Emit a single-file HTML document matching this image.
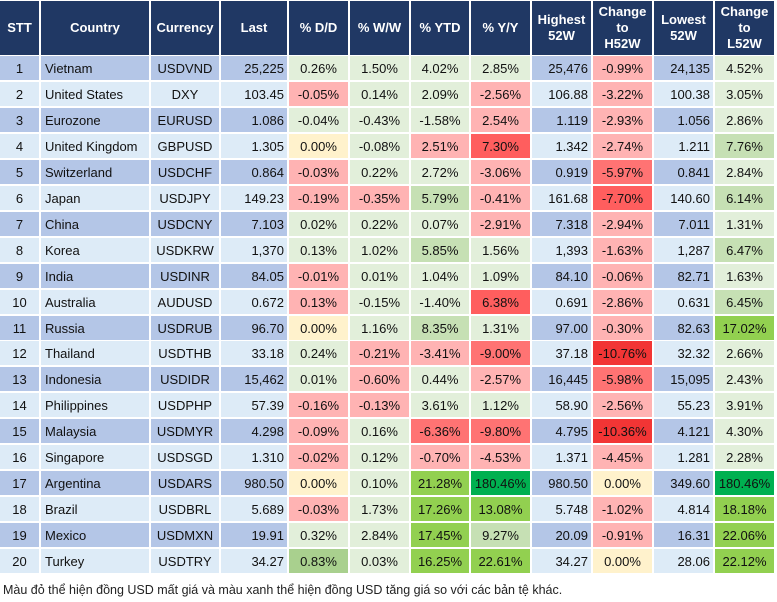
<!DOCTYPE html>
<html><head><meta charset="utf-8">
<style>
html,body{margin:0;padding:0;background:#fff;}
body{width:777px;height:602px;position:relative;overflow:hidden;font-family:"Liberation Sans",Arial,sans-serif;}
.c{position:absolute;box-sizing:border-box;font-size:13px;color:#111;display:flex;align-items:center;white-space:nowrap;}
.h{background:#203864;color:#fff;font-weight:bold;justify-content:center;text-align:center;line-height:16px;font-size:13px;}
.l{justify-content:flex-start;padding-left:4px;}
.m{justify-content:center;}
.r{justify-content:flex-end;padding-right:3px;}
#foot{position:absolute;left:3px;top:583px;font-size:12.5px;color:#222;}
</style></head>
<body>
<div id="tbl"></div>
<div id="foot">Màu đỏ thể hiện đồng USD mất giá và màu xanh thể hiện đồng USD tăng giá so với các bản tệ khác.</div>
<script>
const headers = ["STT","Country","Currency","Last","% D/D","% W/W","% YTD","% Y/Y","Highest<br>52W","Change<br>to<br>H52W","Lowest<br>52W","Change<br>to<br>L52W"];
const countries = ["Vietnam","United States","Eurozone","United Kingdom","Switzerland","Japan","China","Korea","India","Australia","Russia","Thailand","Indonesia","Philippines","Malaysia","Singapore","Argentina","Brazil","Mexico","Turkey"];
const currencies = ["USDVND","DXY","EURUSD","GBPUSD","USDCHF","USDJPY","USDCNY","USDKRW","USDINR","AUDUSD","USDRUB","USDTHB","USDIDR","USDPHP","USDMYR","USDSGD","USDARS","USDBRL","USDMXN","USDTRY"];
const last = ["25,225","103.45","1.086","1.305","0.864","149.23","7.103","1,370","84.05","0.672","96.70","33.18","15,462","57.39","4.298","1.310","980.50","5.689","19.91","34.27"];
const dd = ["0.26%","-0.05%","-0.04%","0.00%","-0.03%","-0.19%","0.02%","0.13%","-0.01%","0.13%","0.00%","0.24%","0.01%","-0.16%","-0.09%","-0.02%","0.00%","-0.03%","0.32%","0.83%"];
const ww = ["1.50%","0.14%","-0.43%","-0.08%","0.22%","-0.35%","0.22%","1.02%","0.01%","-0.15%","1.16%","-0.21%","-0.60%","-0.13%","0.16%","0.12%","0.10%","1.73%","2.84%","0.03%"];
const ytd = ["4.02%","2.09%","-1.58%","2.51%","2.72%","5.79%","0.07%","5.85%","1.04%","-1.40%","8.35%","-3.41%","0.44%","3.61%","-6.36%","-0.70%","21.28%","17.26%","17.45%","16.25%"];
const yy = ["2.85%","-2.56%","2.54%","7.30%","-3.06%","-0.41%","-2.91%","1.56%","1.09%","6.38%","1.31%","-9.00%","-2.57%","1.12%","-9.80%","-4.53%","180.46%","13.08%","9.27%","22.61%"];
const high = ["25,476","106.88","1.119","1.342","0.919","161.68","7.318","1,393","84.10","0.691","97.00","37.18","16,445","58.90","4.795","1.371","980.50","5.748","20.09","34.27"];
const chH = ["-0.99%","-3.22%","-2.93%","-2.74%","-5.97%","-7.70%","-2.94%","-1.63%","-0.06%","-2.86%","-0.30%","-10.76%","-5.98%","-2.56%","-10.36%","-4.45%","0.00%","-1.02%","-0.91%","0.00%"];
const low = ["24,135","100.38","1.056","1.211","0.841","140.60","7.011","1,287","82.71","0.631","82.63","32.32","15,095","55.23","4.121","1.281","349.60","4.814","16.31","28.06"];
const chL = ["4.52%","3.05%","2.86%","7.76%","2.84%","6.14%","1.31%","6.47%","1.63%","6.45%","17.02%","2.66%","2.43%","3.91%","4.30%","2.28%","180.46%","18.18%","22.06%","22.12%"];
// colour codes per row for D/D, W/W, YTD, Y/Y, H52W, L52W
const shades = ["aaaapa","paappa","aaappa","yaprpb","paapqa","ppbprb","aaappa","aababb".slice(0,4)+"pb","paaapa","paarpb","yabapc","appqsa","apapqa","ppaapa","paqqsa","pappp a".replace(" ",""),"yacdyd","pacc pc".replace(" ",""),"aacbpc","eaccyc"];
const pal = {a:"#e2efda",b:"#c6e0b4",c:"#92d050",d:"#00b050",e:"#a9d08e",y:"#fff2cc",p:"#ffb3b3",q:"#ff7373",r:"#ff5e5e",s:"#f23535"};
const edges = [0,41,151,221,289,350,411,471,532,593,654,715,776];
const tbl = document.getElementById('tbl');
function cell(x0,x1,y,h,txt,cls,bg){
  const d=document.createElement('div');
  d.className='c '+cls;
  d.style.left=x0+'px';d.style.top=y+'px';d.style.width=(x1-x0-2)+'px';d.style.height=h+'px';
  if(bg)d.style.background=bg;
  d.innerHTML=txt;
  tbl.appendChild(d);
  return d;
}
headers.forEach((t,i)=>{
  const d=cell(edges[i],edges[i+1],1,54,t,'h');
  
  
});
const cols=[null,null,null,last,dd,ww,ytd,yy,high,chH,low,chL];
const colNames=["stt","country","currency","last","dd","ww","ytd","yy","high-52w","change-h52w","low-52w","change-l52w"];
const shadeCol={4:0,5:1,6:2,7:3,9:4,11:5};
for(let r=0;r<20;r++){
  const y=Math.round(56+r*25.95);
  const base=(r%2===0)?"#b4c6e7":"#ddebf7";
  for(let c=0;c<12;c++){
    let txt,cls,bg=base;
    if(c===0){txt=String(r+1);cls='m';}
    else if(c===1){txt=countries[r];cls='l';}
    else if(c===2){txt=currencies[r];cls='m';}
    else {txt=cols[c][r];cls=(c===3||c===8||c===10)?'r':'m';}
    if(shadeCol[c]!==undefined){bg=pal[shades[r][shadeCol[c]]];}
    const d=cell(edges[c],edges[c+1],y,24,txt,cls,bg);
    
    
  }
}
</script>
</body></html>
